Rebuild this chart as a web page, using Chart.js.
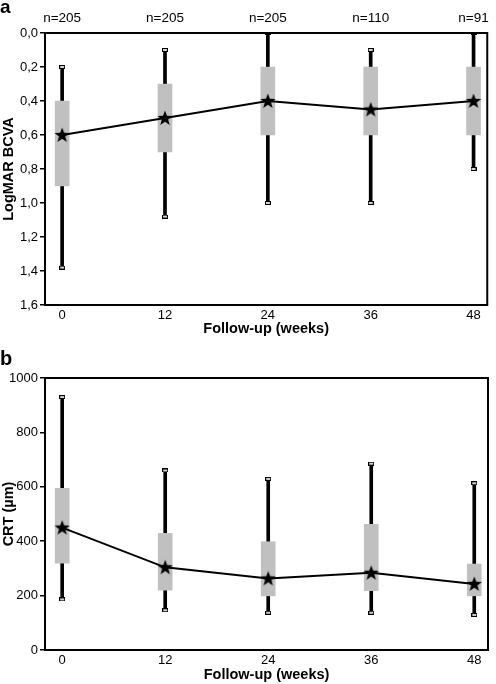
<!DOCTYPE html>
<html>
<head>
<meta charset="utf-8">
<script src="https://cdn.jsdelivr.net/npm/chart.js@4.4.0/dist/chart.umd.min.js"></script>
<style>
    body { margin: 0; background: #fff; overflow: hidden; }
    .wrap { position: relative; width: 496px; height: 684px; }
    canvas { position: absolute; left: 0; }
    .panel-label { position: absolute; left: 0; font: bold 19px "Liberation Sans", Arial, sans-serif; line-height: 1; color: #000; }
</style>
</head>
<body>
<div class="wrap">
    <canvas id="chart-a" width="496" height="342" style="top:0"></canvas>
    <canvas id="chart-b" width="496" height="342" style="top:342px"></canvas>
    <span class="panel-label" style="top:-3px">a</span>
    <span class="panel-label" style="top:348px;font-size:20px">b</span>
</div>
<script>
const weeks = [0, 12, 24, 36, 48];
const nLabels = ['n=205', 'n=205', 'n=205', 'n=110', 'n=91'];

// panel a - LogMAR BCVA (axis reversed)
const bcvaWhiskerTop = [0.2, 0.1, 0.0, 0.1, 0.0];
const bcvaBoxTop = [0.4, 0.3, 0.2, 0.2, 0.2];
const bcvaMedian = [0.6, 0.5, 0.4, 0.45, 0.4];
const bcvaBoxBottom = [0.9, 0.7, 0.6, 0.6, 0.6];
const bcvaWhiskerBottom = [1.38, 1.08, 1.0, 1.0, 0.8];

// panel b - CRT (µm)
const crtWhiskerTop = [930, 660, 629, 685, 613];
const crtBoxTop = [594, 429, 398, 462, 316];
const crtMedian = [450, 304, 263, 284, 243];
const crtBoxBottom = [319, 220, 199, 218, 199];
const crtWhiskerBottom = [186, 146, 137, 137, 129];

Chart.defaults.font.family = '"Liberation Sans", Arial, sans-serif';
Chart.defaults.color = '#000';

const boxGrey = '#c0c0c0';

function makeStar() {
    const c = document.createElement('canvas');
    c.width = 16;
    c.height = 16;
    const g = c.getContext('2d');
    g.beginPath();
    for (let i = 0; i < 10; i++) {
        const r = i % 2 === 0 ? 8 : 3.3;
        const a = -Math.PI / 2 + i * Math.PI / 5;
        const px = 8 + r * Math.cos(a), py = 8.5 + r * Math.sin(a);
        if (i === 0) g.moveTo(px, py); else g.lineTo(px, py);
    }
    g.closePath();
    g.fillStyle = '#000';
    g.fill();
    return c;
}

function makeCap() {
    const c = document.createElement('canvas');
    c.width = 6;
    c.height = 4;
    const g = c.getContext('2d');
    g.fillStyle = '#d0d0d0';
    g.fillRect(0, 0, 6, 4);
    g.strokeStyle = '#000';
    g.lineWidth = 1;
    g.strokeRect(0.5, 0.5, 5, 3);
    return c;
}

const starImg = makeStar();
const capImg = makeCap();

const framePlugin = {
    id: 'frame',
    afterDatasetsDraw(chart) {
        const a = chart.chartArea, ctx = chart.ctx;
        ctx.save();
        ctx.strokeStyle = '#000';
        ctx.lineWidth = 2;
        ctx.strokeRect(a.left, a.top, a.right - a.left, a.bottom - a.top);
        ctx.restore();
    }
};

function setWeekTicks(scale) {
    scale.ticks = weeks.map(v => ({ value: v }));
}

function buildDatasets(wTop, bTop, med, bBottom, wBottom) {
    return [
        {
            type: 'bar',
            xAxisID: 'x',
            data: weeks.map((w, i) => ({ x: w, y: [wTop[i], wBottom[i]] })),
            backgroundColor: '#000',
            barThickness: 3,
            grouped: false,
            order: 4
        },
        {
            type: 'bar',
            xAxisID: 'x',
            data: weeks.map((w, i) => ({ x: w, y: [bTop[i], bBottom[i]] })),
            backgroundColor: boxGrey,
            barThickness: 14,
            grouped: false,
            order: 3
        },
        {
            type: 'line',
            xAxisID: 'x',
            data: weeks.map((w, i) => ({ x: w, y: wTop[i] })).concat(weeks.map((w, i) => ({ x: w, y: wBottom[i] }))),
            showLine: false,
            pointStyle: capImg,
            pointRadius: 3,
            order: 2
        },
        {
            type: 'line',
            xAxisID: 'x',
            data: weeks.map((w, i) => ({ x: w, y: med[i] })),
            borderColor: '#000',
            borderWidth: 2,
            tension: 0,
            pointStyle: starImg,
            pointRadius: 6,
            order: 1
        }
    ];
}

function xAxis(height, titlePad) {
    return {
        type: 'linear',
        position: 'bottom',
        min: -2,
        max: 49.6,
        offset: false,
        afterBuildTicks: setWeekTicks,
        afterFit: s => { s.height = height; },
        ticks: { callback: v => String(v), font: { size: 13 }, padding: 3, maxRotation: 0, autoSkip: false },
        grid: { display: false, drawTicks: false },
        border: { display: true, color: '#000', width: 2 },
        title: { display: true, text: 'Follow-up (weeks)', font: { size: 14.5, weight: 'bold' }, padding: titlePad }
    };
}

function yAxis(opts, title) {
    return Object.assign({
        type: 'linear',
        afterFit: s => { s.width = 45; },
        grid: { drawOnChartArea: false, drawTicks: true, tickLength: 5, color: '#000', lineWidth: 1.5 },
        border: { display: true, color: '#000', width: 2 },
        title: { display: true, text: title, font: { size: 14.5, weight: 'bold' }, padding: 0 }
    }, opts);
}

new Chart(document.getElementById('chart-a'), {
    type: 'bar',
    data: { datasets: buildDatasets(bcvaWhiskerTop, bcvaBoxTop, bcvaMedian, bcvaBoxBottom, bcvaWhiskerBottom) },
    options: {
        responsive: false,
        animation: false,
        layout: { padding: { left: 0, right: 5, top: 0, bottom: 0 } },
        plugins: { legend: { display: false }, tooltip: { enabled: false } },
        scales: {
            x: xAxis(37, 4),
            xTop: {
                type: 'linear',
                position: 'top',
                min: -2,
                max: 49.6,
                offset: false,
                afterBuildTicks: setWeekTicks,
                afterFit: s => { s.height = 33; },
                ticks: { callback: (v, i) => nLabels[i], font: { size: 13.5 }, padding: 7, maxRotation: 0, autoSkip: false },
                grid: { display: false, drawTicks: false },
                border: { display: false }
            },
            y: yAxis({
                reverse: true,
                min: 0,
                max: 1.6,
                ticks: { stepSize: 0.2, font: { size: 13 }, padding: 2, callback: v => v.toFixed(1).replace('.', ',') }
            }, 'LogMAR BCVA')
        }
    },
    plugins: [framePlugin]
});

new Chart(document.getElementById('chart-b'), {
    type: 'bar',
    data: { datasets: buildDatasets(crtWhiskerTop, crtBoxTop, crtMedian, crtBoxBottom, crtWhiskerBottom) },
    options: {
        responsive: false,
        animation: false,
        layout: { padding: { left: 0, right: 5, top: 36, bottom: 0 } },
        plugins: { legend: { display: false }, tooltip: { enabled: false } },
        scales: {
            x: xAxis(34, 0),
            y: yAxis({
                min: 0,
                max: 1000,
                ticks: { stepSize: 200, font: { size: 13 }, padding: 2, callback: v => String(v) }
            }, 'CRT (µm)')
        }
    },
    plugins: [framePlugin]
});
</script>
</body>
</html>
